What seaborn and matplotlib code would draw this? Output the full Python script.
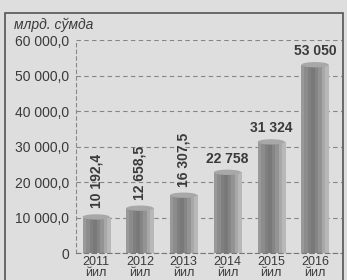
import matplotlib
matplotlib.use('Agg')
import matplotlib.pyplot as plt
import matplotlib.patches as mpatches
import numpy as np
import pandas as pd
import seaborn as sns

# Маълумотлар
yillar = ['2011', '2012', '2013', '2014', '2015', '2016']
qiymatlar = [10192.4, 12658.5, 16307.5, 22758, 31324, 53050]
yorliqlar = ['10 192,4', '12 658,5', '16 307,5', '22 758', '31 324', '53 050']
y_ticks = [0, 10000, 20000, 30000, 40000, 50000, 60000]
y_tick_labels = ['0', '10 000,0', '20 000,0', '30 000,0', '40 000,0', '50 000,0', '60 000,0']

fon = '#dedede'
matn = '#3a3a3a'

df = pd.DataFrame({'yil': [y + '\nйил' for y in yillar], 'qiymat': qiymatlar})

sns.set_style('white')
plt.rcParams['font.family'] = ['Liberation Sans', 'DejaVu Sans']

fig = plt.figure(figsize=(3.47, 2.80), dpi=100, facecolor=fon)
ax = fig.add_axes([0.219, 0.096, 0.767, 0.761])
ax.set_facecolor(fon)

sns.barplot(data=df, x='yil', y='qiymat', color='#9a9a9a', width=0.62, ax=ax,
            saturation=1, edgecolor='none')

# silindr ko'rinishidagi gradient
grad = np.array([[0.60, 0.55, 0.50, 0.48, 0.52, 0.58, 0.66, 0.72]])
for p in ax.patches:
    x0, y0 = p.get_x(), p.get_y()
    w, h = p.get_width(), p.get_height()
    im = ax.imshow(grad, cmap='gray', vmin=0, vmax=1, aspect='auto',
                   extent=(x0, x0 + w, y0, y0 + h), zorder=p.get_zorder() + 0.1)
    im.set_clip_path(p)
    cap = mpatches.Ellipse((x0 + w / 2, y0 + h), w, 1500, facecolor='#a8a8a8',
                           edgecolor='none', zorder=p.get_zorder() + 0.2)
    ax.add_patch(cap)

for i, (v, t) in enumerate(zip(qiymatlar, yorliqlar)):
    if i < 3:
        ax.text(i, v + 2400, t, rotation=90, ha='center', va='bottom',
                fontsize=10, fontweight='bold', color=matn)
    else:
        ax.text(i, v + 1800, t, ha='center', va='bottom',
                fontsize=10, fontweight='bold', color=matn)

ax.set_xlim(-0.46, 5.62)
ax.set_ylim(0, 60000)
ax.set_yticks(y_ticks)
ax.set_yticklabels(y_tick_labels, fontsize=10, color=matn)
ax.tick_params(axis='y', length=0, pad=5)
ax.tick_params(axis='x', length=0, pad=2, labelsize=9, labelcolor=matn)
for lbl in ax.get_xticklabels():
    lbl.set_linespacing(0.95)
ax.set_xlabel('')
ax.set_ylabel('')
ax.grid(axis='y', linestyle=(0, (4, 3)), color='#858585', linewidth=0.8)
ax.set_axisbelow(True)
for s in ['top', 'right']:
    ax.spines[s].set_visible(False)
ax.spines['left'].set_linestyle((0, (3, 3)))
ax.spines['left'].set_color('#888888')
ax.spines['left'].set_linewidth(0.8)
ax.spines['bottom'].set_linestyle((0, (4, 3)))
ax.spines['bottom'].set_color('#777777')
ax.spines['bottom'].set_linewidth(0.8)

fig.text(14 / 347, 1 - 25 / 280, 'млрд. сўмда', fontsize=10, style='italic',
         color=matn, va='center', ha='left')

# ramka
fig.patches.append(mpatches.Rectangle((5 / 347, -0.1), 338 / 347, 1.1 - 13 / 280,
                                      transform=fig.transFigure, fill=False,
                                      edgecolor='#555555', linewidth=1.2))

fig.savefig('out.png', dpi=100, facecolor=fon)
